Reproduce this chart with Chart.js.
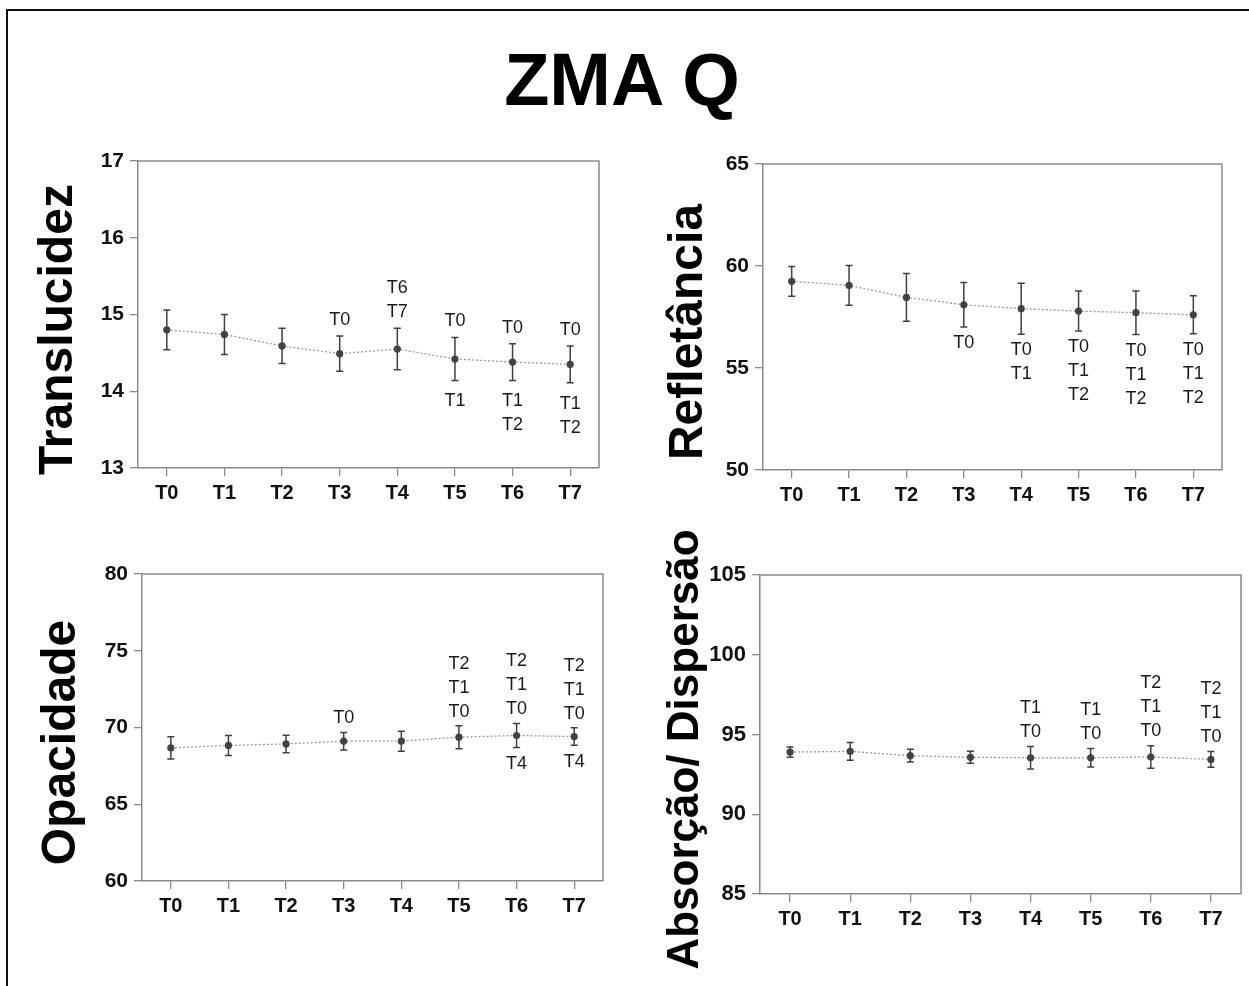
<!DOCTYPE html>
<html>
<head>
<meta charset="utf-8">
<script src="https://cdn.jsdelivr.net/npm/chart.js@4.4.1/dist/chart.umd.min.js"></script>
<style>
  html, body { margin:0; padding:0; background:#fff; width:1249px; height:986px; overflow:hidden; position:relative; }
  #frame { position:absolute; left:6px; top:9px; width:1300px; height:1100px; border:2px solid #111; box-sizing:border-box; }
  #title { position:absolute; left:0; width:1244px; top:35px; text-align:center; font-family:'Liberation Sans', Arial, sans-serif; font-weight:bold; font-size:74px; line-height:90px; color:#000; }
  canvas { position:absolute; }
</style>
</head>
<body>
<div id="frame"></div>
<div id="title">ZMA Q</div>
<canvas id="c1" style="left:0px;top:130px;width:620px;height:390px"></canvas>
<canvas id="c2" style="left:630px;top:130px;width:619px;height:390px"></canvas>
<canvas id="c3" style="left:0px;top:540px;width:620px;height:400px"></canvas>
<canvas id="c4" style="left:630px;top:515px;width:619px;height:471px"></canvas>
<script>
// ---------- DATA ----------
const categories = ['T0','T1','T2','T3','T4','T5','T6','T7'];

const translucidezMean = [14.80, 14.74, 14.59, 14.49, 14.55, 14.42, 14.38, 14.35];
const translucidezErr  = [0.26, 0.26, 0.23, 0.23, 0.27, 0.28, 0.24, 0.24];
const translucidezAbove = [[],[],[],['T0'],['T7','T6'],['T0'],['T0'],['T0']];
const translucidezBelow = [[],[],[],[],[],['T1'],['T1','T2'],['T1','T2']];
const translucidezTicks = [13, 17, 1];

const refletanciaMean = [59.25, 59.05, 58.46, 58.10, 57.91, 57.79, 57.71, 57.61];
const refletanciaErr  = [0.73, 0.97, 1.17, 1.09, 1.25, 0.98, 1.07, 0.93];
const refletanciaAbove = [[],[],[],[],[],[],[],[]];
const refletanciaBelow = [[],[],[],['T0'],['T0','T1'],['T0','T1','T2'],['T0','T1','T2'],['T0','T1','T2']];
const refletanciaTicks = [50, 65, 5];

const opacidadeMean = [68.67, 68.83, 68.93, 69.11, 69.11, 69.37, 69.48, 69.41];
const opacidadeErr  = [0.73, 0.65, 0.57, 0.57, 0.65, 0.75, 0.78, 0.57];
const opacidadeAbove = [[],[],[],['T0'],[],['T0','T1','T2'],['T0','T1','T2'],['T0','T1','T2']];
const opacidadeBelow = [[],[],[],[],[],[],['T4'],['T4']];
const opacidadeTicks = [60, 80, 5];

const absorcaoMean = [93.90, 93.94, 93.67, 93.57, 93.54, 93.54, 93.59, 93.44];
const absorcaoErr  = [0.32, 0.56, 0.40, 0.38, 0.70, 0.58, 0.70, 0.49];
const absorcaoAbove = [[],[],[],[],['T0','T1'],['T0','T1'],['T0','T1','T2'],['T0','T1','T2']];
const absorcaoBelow = [[],[],[],[],[],[],[],[]];
const absorcaoTicks = [85, 105, 5];

// ---------- PLUGIN ----------
const panelPlugin = {
  id: 'panelPlugin',
  afterDatasetsDraw(chart) {
    const o = chart.options.plugins.panelPlugin;
    const ctx = chart.ctx;
    const xs = chart.scales.x, ys = chart.scales.y;
    const a = chart.chartArea;
    ctx.save();
    // frame (top & right)
    ctx.strokeStyle = '#8a8a8a';
    ctx.lineWidth = 1.5;
    ctx.beginPath();
    ctx.moveTo(a.left, a.top); ctx.lineTo(a.right, a.top); ctx.lineTo(a.right, a.bottom);
    ctx.stroke();
    // error bars
    ctx.strokeStyle = '#404040';
    ctx.lineWidth = 1.5;
    o.mean.forEach((m, i) => {
      const x = xs.getPixelForValue(i);
      const yt = ys.getPixelForValue(m + o.err[i]);
      const yb = ys.getPixelForValue(m - o.err[i]);
      ctx.beginPath();
      ctx.moveTo(x, yt); ctx.lineTo(x, yb);
      ctx.moveTo(x - 3.5, yt); ctx.lineTo(x + 3.5, yt);
      ctx.moveTo(x - 3.5, yb); ctx.lineTo(x + 3.5, yb);
      ctx.stroke();
    });
    // annotations
    ctx.fillStyle = '#1a1a1a';
    ctx.font = "18px 'Liberation Sans Narrow', 'Liberation Sans', Arial, sans-serif";
    ctx.textAlign = 'center';
    ctx.textBaseline = 'middle';
    o.mean.forEach((m, i) => {
      const x = xs.getPixelForValue(i);
      const yt = ys.getPixelForValue(m + o.err[i]);
      const yb = ys.getPixelForValue(m - o.err[i]);
      o.above[i].forEach((t, k) => ctx.fillText(t, x, yt - o.gapAbove - k * 24));
      o.below[i].forEach((t, k) => ctx.fillText(t, x, yb + o.gapBelow + k * 24));
    });
    // y title
    ctx.fillStyle = '#000';
    ctx.font = "bold " + o.titleSize + "px 'Liberation Sans', Arial, sans-serif";
    ctx.textBaseline = 'alphabetic';
    ctx.translate(a.left - o.titleDx, (a.top + a.bottom) / 2 + 15);
    ctx.rotate(-Math.PI / 2);
    ctx.fillText(o.title, 0, 0);
    ctx.restore();
  }
};

function makeChart(id, mean, err, above, below, ticks, title, titleSize, titleDx, yWidth, xHeight, padTop, padRight, tickSize, gapAbove, gapBelow) {
  const el = document.getElementById(id);
  el.width = parseInt(el.style.width); el.height = parseInt(el.style.height);
  return new Chart(el, {
    type: 'line',
    data: {
      labels: categories,
      datasets: [{
        data: mean,
        borderColor: '#9a9a9a',
        borderWidth: 1.3,
        borderDash: [2, 2],
        pointRadius: 3.6,
        pointBackgroundColor: '#444',
        pointBorderWidth: 0,
        tension: 0,
        fill: false
      }]
    },
    options: {
      responsive: false,
      animation: false,
      events: [],
      layout: { padding: { top: padTop, right: padRight, left: 0, bottom: 0 } },
      plugins: {
        legend: { display: false },
        tooltip: { enabled: false },
        panelPlugin: { mean, err, above, below, title, titleSize, titleDx, gapAbove, gapBelow }
      },
      scales: {
        x: {
          type: 'category',
          offset: true,
          afterFit(s) { s.height = xHeight; },
          grid: { drawOnChartArea: false, drawTicks: true, tickLength: 8, color: '#8a8a8a', lineWidth: 1.3, offset: false },
          border: { display: true, color: '#8a8a8a', width: 1.5 },
          ticks: { color: '#111', padding: 5, maxRotation: 0, font: { family: "'Liberation Sans', Arial, sans-serif", size: 20, weight: 'bold' } }
        },
        y: {
          min: ticks[0], max: ticks[1],
          afterFit(s) { s.width = yWidth; },
          grid: { drawOnChartArea: false, drawTicks: true, tickLength: 8, color: '#8a8a8a', lineWidth: 1.3 },
          border: { display: true, color: '#8a8a8a', width: 1.5 },
          ticks: { stepSize: ticks[2], color: '#111', padding: 6, font: { family: "'Liberation Sans', Arial, sans-serif", size: tickSize, weight: 'bold' } }
        }
      }
    },
    plugins: [panelPlugin]
  });
}

makeChart('c1', translucidezMean, translucidezErr, translucidezAbove, translucidezBelow, translucidezTicks,
  'Translucidez', 48, 66, 138, 52, 31, 21, 21, 16, 21);
makeChart('c2', refletanciaMean, refletanciaErr, refletanciaAbove, refletanciaBelow, refletanciaTicks,
  'Refletância', 48, 61, 133, 50, 34, 27, 21, 16, 16);
makeChart('c3', opacidadeMean, opacidadeErr, opacidadeAbove, opacidadeBelow, opacidadeTicks,
  'Opacidade', 48, 67, 142, 59, 34, 17, 21, 14, 17);
makeChart('c4', absorcaoMean, absorcaoErr, absorcaoAbove, absorcaoBelow, absorcaoTicks,
  'Absorção/ Dispersão', 44, 62, 130, 92, 60, 8, 22, 15, 17);
</script>
</body>
</html>
